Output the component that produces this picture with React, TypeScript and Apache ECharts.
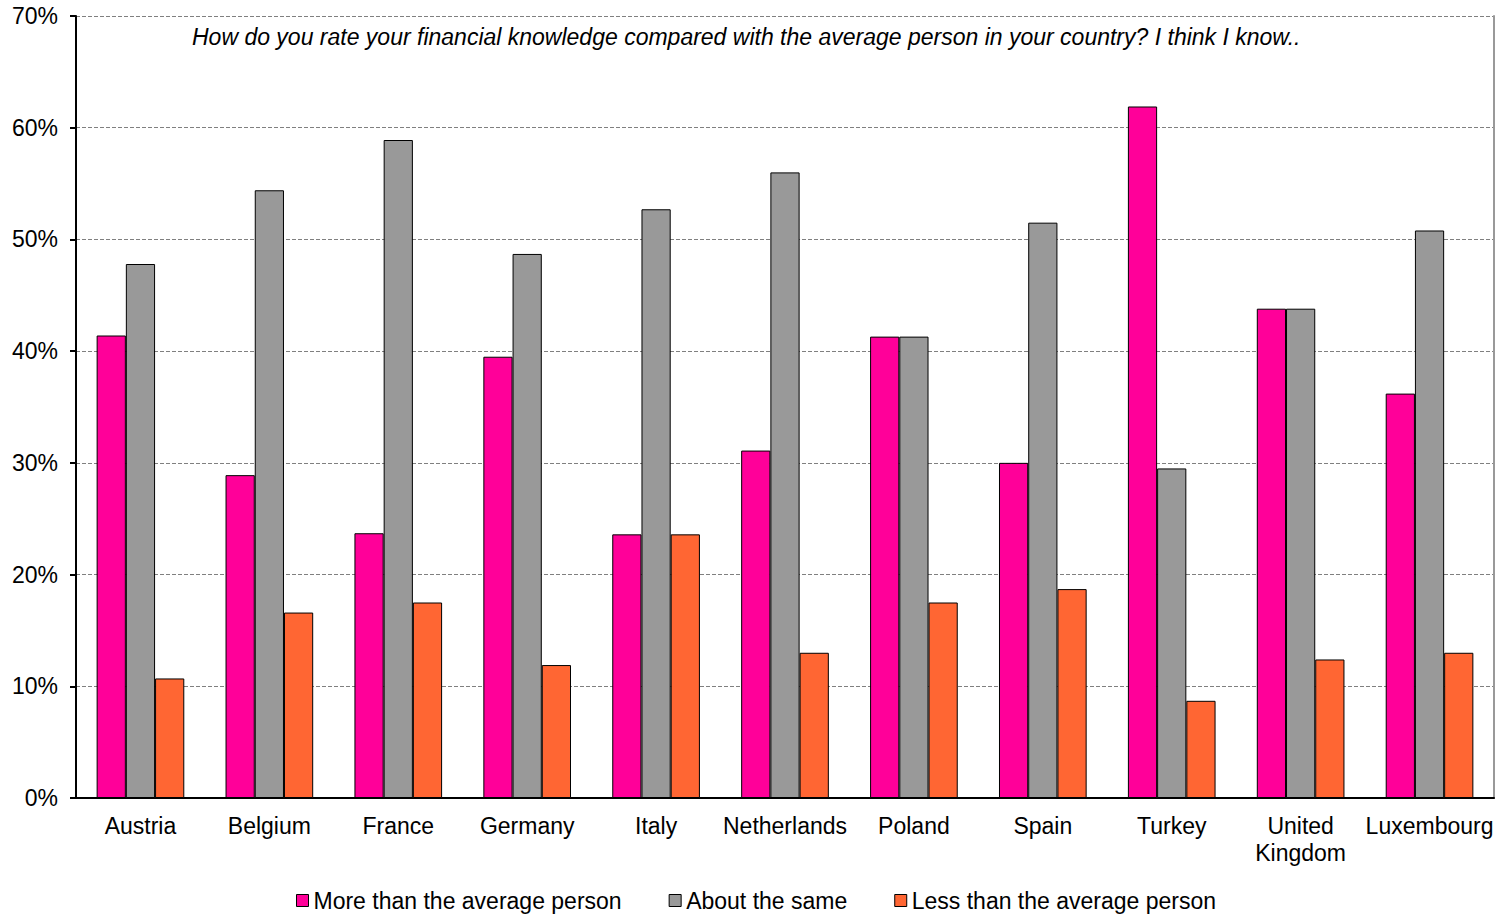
import React, { useEffect, useRef } from "react";
import * as echarts from "echarts";

const categories = ["Austria", "Belgium", "France", "Germany", "Italy", "Netherlands", "Poland", "Spain", "Turkey", "United\nKingdom", "Luxembourg"];
const moreThanAverage = [41.4, 28.9, 23.7, 39.5, 23.6, 31.1, 41.3, 30.0, 61.9, 43.8, 36.2];
const aboutTheSame = [47.8, 54.4, 58.9, 48.7, 52.7, 56.0, 41.3, 51.5, 29.5, 43.8, 50.8];
const lessThanAverage = [10.7, 16.6, 17.5, 11.9, 23.6, 13.0, 17.5, 18.7, 8.7, 12.4, 13.0];
const seriesNames = ["More than the average person", "About the same", "Less than the average person"];
const title = "How do you rate your financial knowledge compared with the average person in your country? I think I know..";

const FONT = "'Liberation Sans', Arial, sans-serif";

export default function App() {
  const ref = useRef<HTMLDivElement>(null);
  useEffect(() => {
    if (!ref.current) return;
    const chart = echarts.init(ref.current, null, { renderer: "svg" });
    const mk = (name: string, data: number[], color: string) => ({
      name,
      type: "bar",
      data,
      barGap: "0%",
      barCategoryGap: "32%",
      itemStyle: { color, borderColor: "#000", borderWidth: 1 },
    });
    chart.setOption({
      animation: false,
      textStyle: { fontFamily: FONT },
      title: {
        text: title,
        left: 187,
        top: 20,
        textStyle: { fontFamily: FONT, fontSize: 23, fontStyle: "italic", fontWeight: "normal", color: "#000" },
      },
      grid: { left: 76, right: 8, top: 16, bottom: 118, containLabel: false },
      legend: {
        data: seriesNames,
        left: 291,
        top: 884,
        itemWidth: 12,
        itemHeight: 12,
        itemGap: 47,
        icon: "rect",
        textStyle: { fontFamily: FONT, fontSize: 23, color: "#000" },
        itemStyle: { borderColor: "#000", borderWidth: 1 },
      },
      xAxis: {
        type: "category",
        data: categories,
        axisLine: { lineStyle: { color: "#000", width: 2 } },
        axisTick: { show: false },
        axisLabel: { fontFamily: FONT, fontSize: 23, color: "#000", margin: 14, lineHeight: 27, interval: 0 },
      },
      yAxis: [
        {
          type: "value",
          min: 0,
          max: 70,
          interval: 10,
          axisLine: { show: true, lineStyle: { color: "#000", width: 2 } },
          axisTick: { show: true, length: 6, lineStyle: { color: "#000", width: 2 } },
          axisLabel: { fontFamily: FONT, fontSize: 23, color: "#000", margin: 18, formatter: "{value}%" },
          splitLine: { show: true, lineStyle: { color: "#808080", type: [4, 2], width: 1 } },
        },
        {
          type: "value",
          min: 0,
          max: 70,
          interval: 10,
          position: "right",
          axisLine: { show: true, lineStyle: { color: "#999", width: 2 } },
          axisTick: { show: false },
          axisLabel: { show: false },
          splitLine: { show: false },
        },
      ],
      series: [
        mk(seriesNames[0], moreThanAverage, "#FF0099"),
        mk(seriesNames[1], aboutTheSame, "#999999"),
        mk(seriesNames[2], lessThanAverage, "#FF6633"),
      ],
    });
    return () => chart.dispose();
  }, []);
  return <div ref={ref} style={{ width: 1502, height: 916, position: "absolute", left: 0, top: 0 }} />;
}
